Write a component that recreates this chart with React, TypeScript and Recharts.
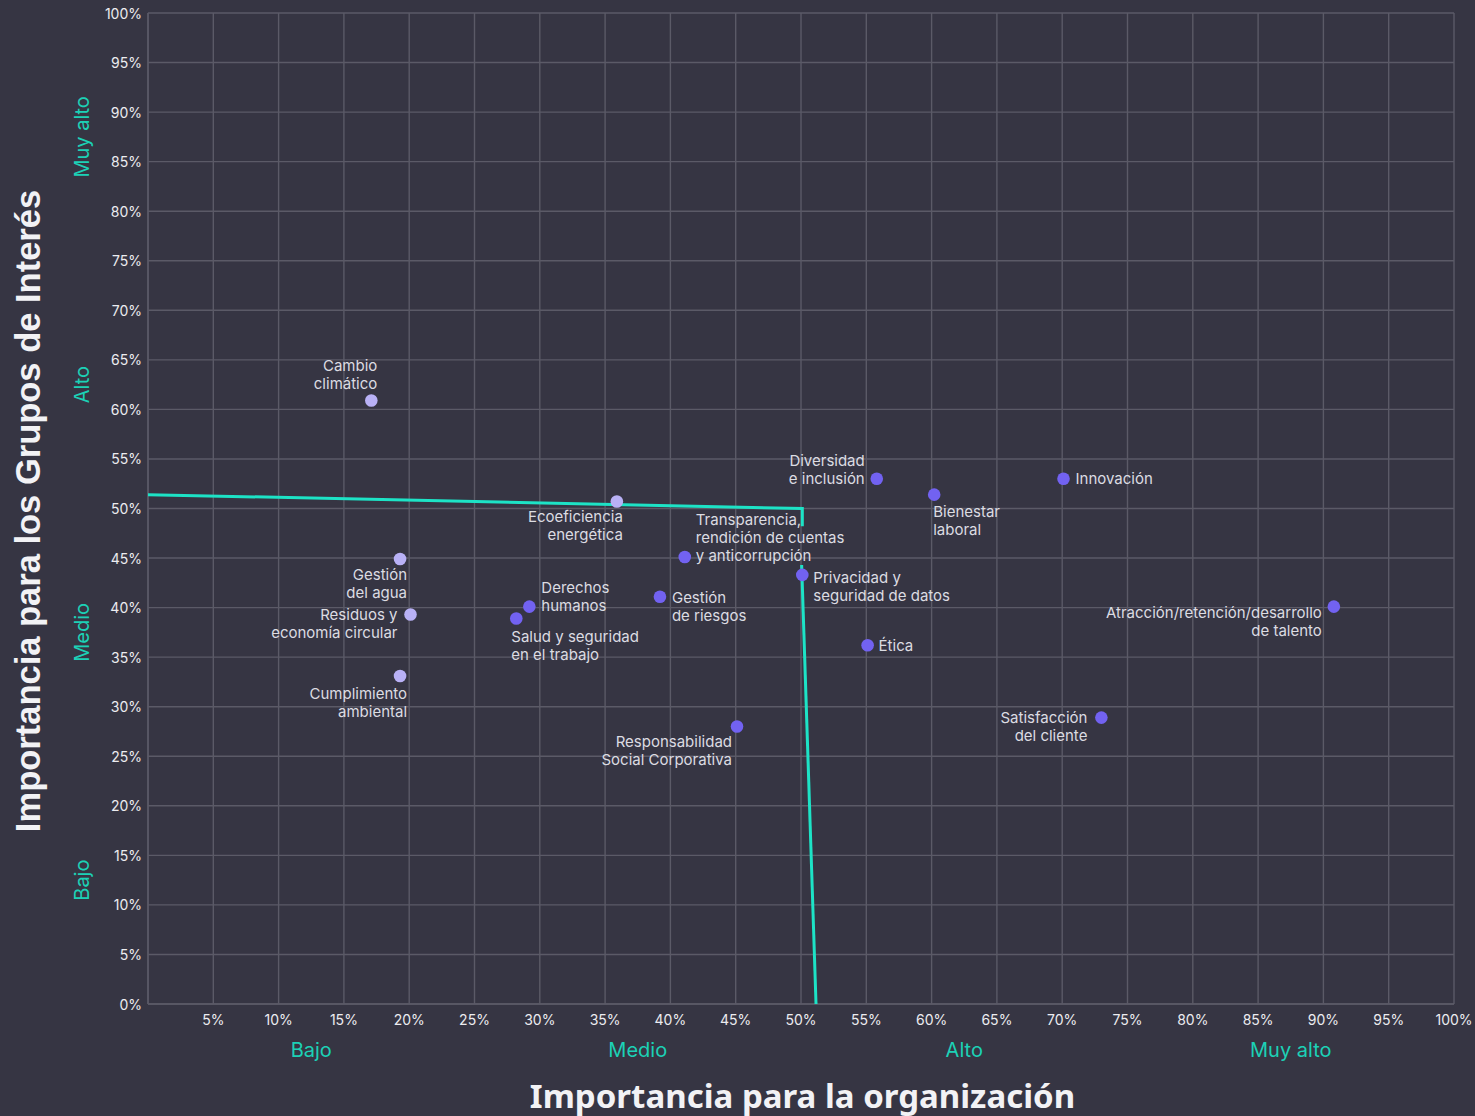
import React from 'react';
import { ScatterChart, Scatter, XAxis, YAxis, CartesianGrid } from 'recharts';

// temas materiales
const temas = [
  'Cambio\nclimático',
  'Ecoeficiencia\nenergética',
  'Gestión\ndel agua',
  'Residuos y\neconomía circular',
  'Cumplimiento\nambiental',
  'Derechos\nhumanos',
  'Salud y seguridad\nen el trabajo',
  'Gestión\nde riesgos',
  'Transparencia,\nrendición de cuentas\ny anticorrupción',
  'Responsabilidad\nSocial Corporativa',
  'Privacidad y\nseguridad de datos',
  'Diversidad\ne inclusión',
  'Bienestar\nlaboral',
  'Ética',
  'Innovación',
  'Satisfacción\ndel cliente',
  'Atracción/retención/desarrollo\nde talento',
];
const importanciaOrg = [17.1, 35.9, 19.3, 20.1, 19.3, 29.2, 28.2, 39.2, 41.1, 45.1, 50.1, 55.8, 60.2, 55.1, 70.1, 73.0, 90.8];
const importanciaGI = [60.9, 50.7, 44.9, 39.3, 33.1, 40.1, 38.9, 41.1, 45.1, 28.0, 43.3, 53.0, 51.4, 36.2, 53.0, 28.9, 40.1];
const ambito = ['amb', 'amb', 'amb', 'amb', 'amb', 'soc', 'soc', 'soc', 'soc', 'soc', 'soc', 'soc', 'soc', 'soc', 'soc', 'soc', 'soc'];

// umbral de materialidad (dos tramos)
const umbralOrg1 = [0, 50.1, 50.1];
const umbralGI1 = [51.4, 50.0, 48.2];
const umbralOrg2 = [50.05, 51.15];
const umbralGI2 = [44.3, 0];

const ticks = [0, 5, 10, 15, 20, 25, 30, 35, 40, 45, 50, 55, 60, 65, 70, 75, 80, 85, 90, 95, 100];
const niveles = ['Bajo', 'Medio', 'Alto', 'Muy alto'];
const nivelTicks = [12.5, 37.5, 62.5, 87.5];

const puntos = temas.map((t, i) => ({ tema: t, x: importanciaOrg[i], y: importanciaGI[i], ambito: ambito[i] }));
const umbral1 = umbralOrg1.map((x, i) => ({ x, y: umbralGI1[i] }));
const umbral2 = umbralOrg2.map((x, i) => ({ x, y: umbralGI2[i] }));

const BG = '#363543';
const GRID = '#5b5a67';
const TEAL = '#1de3c6';
const TEAL_TXT = '#1cd1b6';
const FONT = 'Inter, "Noto Sans", sans-serif';

// colocación de etiquetas: anclaje, desplazamiento x, desplazamiento y de la primera línea
const etiqueta: Record<string, [string, number, number]> = {
  'Cambio\nclimático': ['end', 6, -35],
  'Ecoeficiencia\nenergética': ['end', 6, 15],
  'Gestión\ndel agua': ['end', 7, 15],
  'Residuos y\neconomía circular': ['end', -13, 0],
  'Cumplimiento\nambiental': ['end', 7, 18],
  'Derechos\nhumanos': ['start', 12, -19],
  'Salud y seguridad\nen el trabajo': ['start', -5, 18],
  'Gestión\nde riesgos': ['start', 12, 1],
  'Transparencia,\nrendición de cuentas\ny anticorrupción': ['start', 11, -38],
  'Responsabilidad\nSocial Corporativa': ['end', -5, 15],
  'Privacidad y\nseguridad de datos': ['start', 11, 3],
  'Diversidad\ne inclusión': ['end', -12, -18],
  'Bienestar\nlaboral': ['start', -1, 17],
  'Ética': ['start', 11, 0],
  'Innovación': ['start', 12, 0],
  'Satisfacción\ndel cliente': ['end', -14, 0],
  'Atracción/retención/desarrollo\nde talento': ['end', -12, 6],
};

const Punto = (props: any) => {
  const { cx, cy, payload } = props;
  const [anchor, dx, dy] = etiqueta[payload.tema];
  const lineas = payload.tema.split('\n');
  return (
    <g>
      <circle cx={cx} cy={cy} r={6.3} fill={payload.ambito === 'amb' ? '#b9b1f6' : '#7262f1'} />
      <text x={cx + dx} textAnchor={anchor} fontFamily={FONT} fontSize={15} fill="#dcdce2">
        {lineas.map((l: string, i: number) => (
          <tspan key={i} x={cx + dx} y={cy + dy + i * 18} dominantBaseline="central">{l}</tspan>
        ))}
      </text>
    </g>
  );
};

const TickX = ({ x, payload }: any) =>
  payload.value === 0 ? null : (
    <text x={x} y={1025} textAnchor="middle" fontFamily={FONT} fontSize={14} fill="#ececf0">{payload.value}%</text>
  );

const TickY = ({ y, payload }: any) => (
  <text x={142} y={y} textAnchor="end" dominantBaseline="central" fontFamily={FONT} fontSize={14} fill="#ececf0">{payload.value}%</text>
);

const NivelX = ({ x, payload }: any) => (
  <text x={x} y={1057} textAnchor="middle" fontFamily={FONT} fontSize={20} fill={TEAL_TXT}>
    {niveles[nivelTicks.indexOf(payload.value)]}
  </text>
);

const NivelY = ({ y, payload }: any) => (
  <text x={82} y={y} transform={`rotate(-90, 82, ${y})`} textAnchor="middle" dominantBaseline="central" fontFamily={FONT} fontSize={20} fill={TEAL_TXT}>
    {niveles[nivelTicks.indexOf(payload.value)]}
  </text>
);

const Vacio = () => <g />;

export default function App() {
  return (
    <div style={{ position: 'relative', width: 1475, height: 1116, background: BG }}>
      <style>{`body{margin:0;background:${BG}}`}</style>
      <ScatterChart width={1475} height={1116} margin={{ top: 13, right: 21, left: 0, bottom: 0 }}>
        <CartesianGrid stroke={GRID} strokeWidth={1.4} />
        <XAxis type="number" dataKey="x" domain={[0, 100]} ticks={ticks} height={50} tick={<TickX />} tickLine={false} axisLine={{ stroke: GRID, strokeWidth: 1.4 }} interval={0} />
        <XAxis xAxisId="nivel" type="number" dataKey="x" domain={[0, 100]} ticks={nivelTicks} height={62} tick={<NivelX />} tickLine={false} axisLine={false} interval={0} />
        <YAxis type="number" dataKey="y" domain={[0, 100]} ticks={ticks} width={90} tick={<TickY />} tickLine={false} axisLine={{ stroke: GRID, strokeWidth: 1.4 }} interval={0} />
        <YAxis yAxisId="nivel" type="number" dataKey="y" domain={[0, 100]} ticks={nivelTicks} width={58} tick={<NivelY />} tickLine={false} axisLine={false} interval={0} />
        <Scatter data={umbral1} line={{ stroke: TEAL, strokeWidth: 3 }} shape={Vacio} isAnimationActive={false} />
        <Scatter data={umbral2} line={{ stroke: TEAL, strokeWidth: 3 }} shape={Vacio} isAnimationActive={false} />
        <Scatter data={umbral2} xAxisId="nivel" yAxisId="nivel" shape={Vacio} isAnimationActive={false} />
        <Scatter data={puntos} shape={<Punto />} isAnimationActive={false} />
      </ScatterChart>
      <div style={{ position: 'absolute', left: 0, width: 1475, paddingLeft: 130, boxSizing: 'border-box', top: 1074, textAlign: 'center', fontFamily: '"Noto Sans", sans-serif', fontWeight: 700, fontSize: 33, color: '#f2f2f5', lineHeight: '44px' }}>
        Importancia para la organización
      </div>
      <div style={{ position: 'absolute', left: 28, top: 511, transform: 'translate(-50%, -50%) rotate(-90deg)', whiteSpace: 'nowrap', fontFamily: '"Liberation Sans", Arial, sans-serif', fontWeight: 700, fontSize: 34.5, color: '#f2f2f5' }}>
        Importancia para los Grupos de Interés
      </div>
    </div>
  );
}
